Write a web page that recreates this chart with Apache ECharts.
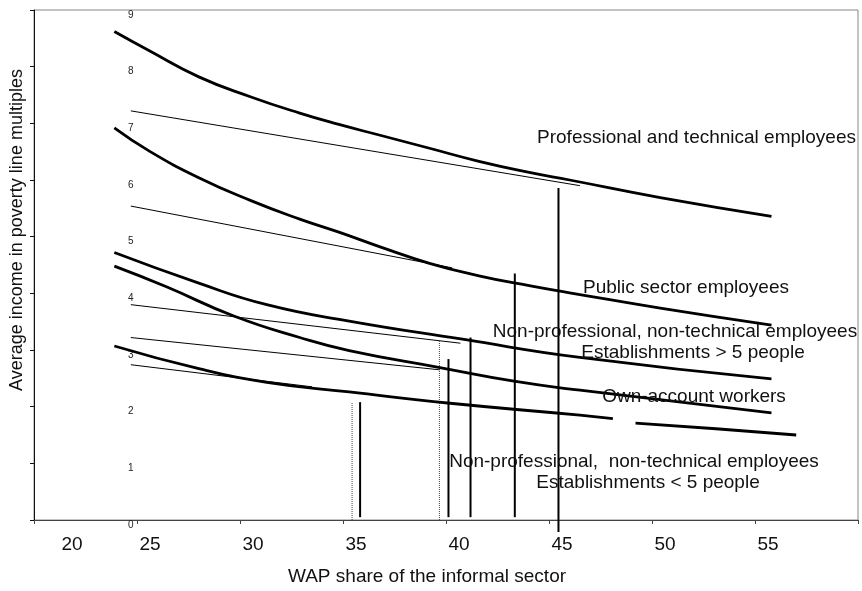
<!DOCTYPE html>
<html>
<head>
<meta charset="utf-8">
<script src="https://cdn.jsdelivr.net/npm/echarts@6/dist/echarts.min.js"></script>
<style>
html,body{margin:0;padding:0;background:#fff;}
#chart{width:862px;height:591px;}
</style>
</head>
<body>
<div id="chart"></div>
<script>
// ---- data ----
const xTickLabels = ['20','25','30','35','40','45','50','55',''];
const yTickLabels = ['0','1','2','3','4','5','6','7','8','9'];

const profX = [23.9, 25.6, 28.0, 30.5, 32.9, 34.8, 36.8, 39.2, 41.6, 44.1, 46.0, 50.4, 55.8];
const profY = [8.62, 8.28, 7.82, 7.47, 7.18, 6.98, 6.79, 6.56, 6.33, 6.13, 6.00, 5.69, 5.36];

const publicX = [23.9, 25.6, 28.0, 30.5, 32.9, 34.8, 36.8, 39.2, 41.6, 44.1, 46.0, 50.4, 55.8];
const publicY = [6.92, 6.51, 6.04, 5.64, 5.31, 5.08, 4.82, 4.53, 4.31, 4.13, 4.01, 3.74, 3.44];

const nonProfBigX = [23.9, 28.0, 31.3, 35.3, 40.8, 46.5, 55.8];
const nonProfBigY = [4.72, 4.18, 3.80, 3.51, 3.19, 2.87, 2.49];

const ownAccX = [23.9, 26.4, 29.7, 32.9, 35.3, 39.7, 43.3, 46.5, 55.8];
const ownAccY = [4.48, 4.12, 3.60, 3.22, 2.99, 2.69, 2.45, 2.29, 1.89];

const nonProfSmallX1 = [23.9, 28.0, 31.3, 35.3, 40.2, 46.5, 48.1];
const nonProfSmallY1 = [3.07, 2.67, 2.43, 2.26, 2.06, 1.85, 1.79];
const nonProfSmallX2 = [49.2, 53.1, 57.0];
const nonProfSmallY2 = [1.71, 1.61, 1.50];

// thin straight lines: [x0, y0, x1, y1]
const thinLines = [
  [24.7, 7.22, 46.5, 5.90],
  [24.7, 5.54, 40.3, 4.45],
  [24.7, 3.80, 40.7, 3.12],
  [24.7, 3.22, 39.7, 2.65],
  [24.7, 2.74, 33.5, 2.35]
];

// vertical lines: [x, yBottom, yTop]
const solidVerticals = [
  [35.83, 0.05, 2.08],
  [40.12, 0.05, 2.84],
  [41.19, 0.05, 3.22],
  [43.34, 0.05, 4.35],
  [45.46, -0.21, 5.86]
];
const dottedVerticals = [
  [35.44, 0, 2.08],
  [39.68, 0, 3.16]
];

const curveLabels = [
  'Professional and technical employees',
  'Public sector employees',
  'Non-professional, non-technical employees',
  'Establishments > 5 people',
  'Own-account workers',
  'Non-professional,  non-technical employees',
  'Establishments < 5 people'
];

// ---- build chart ----
const zip = (xs, ys) => xs.map((x, i) => [x, ys[i]]);
const FONT = '"Liberation Sans", Arial, sans-serif';

const series = [];
function thick(name, xs, ys) {
  series.push({
    name, type: 'line', data: zip(xs, ys), smooth: 0.5, symbol: 'none',
    lineStyle: { color: '#000', width: 2.8 }, z: 4, silent: true
  });
}
thick('Professional and technical', profX, profY);
thick('Public sector', publicX, publicY);
thick('Non-professional > 5', nonProfBigX, nonProfBigY);
thick('Own-account', ownAccX, ownAccY);
thick('Non-professional < 5 (a)', nonProfSmallX1, nonProfSmallY1);
thick('Non-professional < 5 (b)', nonProfSmallX2, nonProfSmallY2);

thinLines.forEach((l, i) => series.push({
  name: 'thin' + i, type: 'line', data: [[l[0], l[1]], [l[2], l[3]]], symbol: 'none',
  lineStyle: { color: '#000', width: 1 }, z: 3, silent: true
}));
solidVerticals.forEach((v, i) => series.push({
  name: 'vs' + i, type: 'line', data: [[v[0], v[1]], [v[0], v[2]]], symbol: 'none', clip: false,
  lineStyle: { color: '#000', width: 2 }, z: 3, silent: true
}));
dottedVerticals.forEach((v, i) => series.push({
  name: 'vd' + i, type: 'line', data: [[v[0], v[1]], [v[0], v[2]]], symbol: 'none',
  lineStyle: { color: '#444', width: 1, type: [1, 1] }, z: 3, silent: true
}));

const labelPos = [
  { x: 856, y: 138, align: 'right' },
  { x: 686, y: 288, align: 'center' },
  { x: 675, y: 332, align: 'center' },
  { x: 693, y: 353, align: 'center' },
  { x: 694, y: 397, align: 'center' },
  { x: 634, y: 462, align: 'center' },
  { x: 648, y: 483, align: 'center' }
];
const graphic = curveLabels.map((t, i) => ({
  type: 'text', x: labelPos[i].x, y: labelPos[i].y, z: 10,
  style: { text: t, fill: '#111', font: '19px ' + FONT, align: labelPos[i].align, verticalAlign: 'middle' }
}));

const chart = echarts.init(document.getElementById('chart'), null, { renderer: 'canvas' });
chart.setOption({
  backgroundColor: '#fff',
  animation: false,
  textStyle: { fontFamily: FONT },
  grid: { left: 34, right: 4, top: 10, bottom: 65, show: true, borderColor: '#888', borderWidth: 1, backgroundColor: 'transparent' },
  xAxis: {
    type: 'value', min: 20, max: 60, interval: 5,
    name: 'WAP share of the informal sector', nameLocation: 'middle', nameGap: 47,
    nameTextStyle: { fontSize: 19, color: '#111', fontFamily: FONT, padding: [0, 38, 0, 0] },
    axisLine: { show: true, lineStyle: { color: '#444', width: 1 } },
    axisTick: { show: true, inside: false, length: 4, lineStyle: { color: '#444' } },
    splitLine: { show: false },
    axisLabel: {
      fontSize: 19, color: '#111', fontFamily: FONT, margin: 15, padding: [0, 0, 0, 26],
      showMinLabel: true, showMaxLabel: true,
      formatter: v => {
        const t = xTickLabels[Math.round((v - 20) / 5)] || '';
        return v === 20 ? '{f|' + t + '}' : t;
      },
      rich: { f: { fontSize: 19, color: '#111', fontFamily: FONT, padding: [0, 0, 0, 50] } }
    }
  },
  yAxis: {
    type: 'value', min: 0, max: 9, interval: 1,
    name: 'Average income in poverty line multiples', nameLocation: 'middle', nameGap: 3,
    nameTextStyle: { fontSize: 18, color: '#111', fontFamily: FONT, padding: [0, 0, 0, 70] },
    axisLine: { show: true, lineStyle: { color: '#111', width: 1 } },
    axisTick: { show: true, inside: false, length: 4, lineStyle: { color: '#111' } },
    splitLine: { show: false },
    axisLabel: {
      inside: true, margin: 94, verticalAlign: 'top', fontSize: 10, color: '#222', fontFamily: FONT,
      showMinLabel: true, showMaxLabel: true,
      formatter: v => yTickLabels[Math.round(v)] || ''
    }
  },
  series,
  graphic
});
</script>
</body>
</html>
